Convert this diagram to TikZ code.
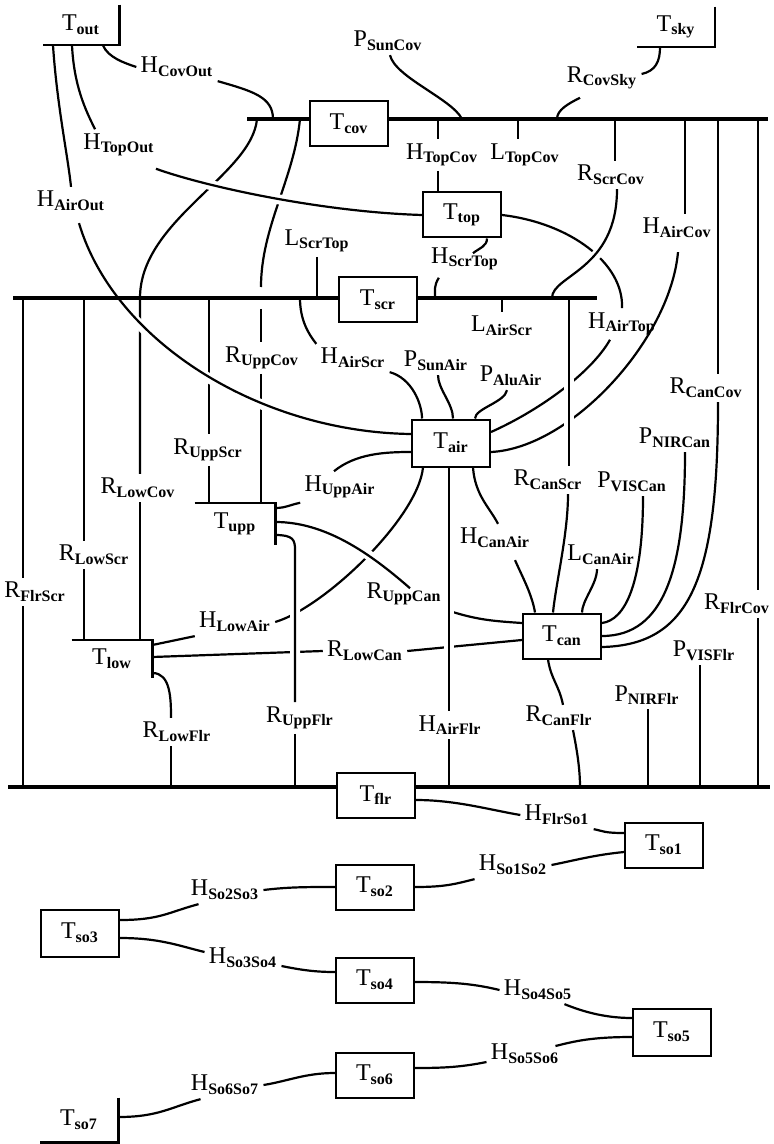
\documentclass[tikz,border=0pt]{standalone}
\usepackage{amsmath}
\usepackage{fontspec}
\setmainfont{Liberation Serif}
\usepackage{tikz}

\begin{document}
\begin{tikzpicture}[x=0.5pt, y=-0.5pt, every node/.style={font=\fontsize{12}{14}\selectfont}]

	\tikzstyle{tbox}=[draw=black, line width=1pt, minimum width=39pt, minimum height=22.5pt, inner sep=0pt]
	\tikzstyle{topen}=[draw=none, minimum width=39pt, minimum height=20pt, inner sep=0pt]
	\tikzstyle{lab}=[inner sep=2pt]
	\tikzstyle{wire}=[line width=1.1pt]
	\tikzstyle{over}=[line width=1.1pt, preaction={draw=white, line width=5pt, shorten <=4pt, shorten >=4pt}]
	\tikzstyle{bar}=[line width=2.4pt]

	\useasboundingbox (0,0) rectangle (773,1144);

	% cover, screen and floor levels
	\coordinate (covL) at (247,119);
	\coordinate (covR) at (768,119);
	\coordinate (scrL) at (13,298);
	\coordinate (scrR) at (597,298);
	\coordinate (flrL) at (8,787);
	\coordinate (flrR) at (770,787);

	% temperature nodes
	\node (tout) at (81,25) [topen, minimum width=38pt] {T$_{\textbf{out}}$};
	\node (tsky) at (676,27) [topen, minimum width=38.5pt] {T$_{\textbf{sky}}$};
	\node (tcov) at (349,124) [tbox] {T$_{\textbf{cov}}$};
	\node (ttop) at (462,215) [tbox] {T$_{\textbf{top}}$};
	\node (tscr) at (378,300) [tbox] {T$_{\textbf{scr}}$};
	\node (tair) at (451,443) [tbox, minimum height=23.5pt] {T$_{\textbf{air}}$};
	\node (tupp) at (235,524) [topen, minimum width=40pt, minimum height=21pt] {T$_{\textbf{upp}}$};
	\node (tlow) at (112,659) [topen, minimum width=40pt, minimum height=19pt] {T$_{\textbf{low}}$};
	\node (tcan) at (562,636) [tbox] {T$_{\textbf{can}}$};
	\node (tflr) at (376,795) [tbox] {T$_{\textbf{flr}}$};

	\node (tso1) at (664,845) [tbox] {T$_{\textbf{so1}}$};
	\node (tso2) at (375,887) [tbox] {T$_{\textbf{so2}}$};
	\node (tso3) at (80,933) [tbox, minimum height=23.5pt] {T$_{\textbf{so3}}$};
	\node (tso4) at (375,980) [tbox] {T$_{\textbf{so4}}$};
	\node (tso5) at (672,1032) [tbox, minimum height=23.5pt] {T$_{\textbf{so5}}$};
	\node (tso6) at (375,1075) [tbox] {T$_{\textbf{so6}}$};
	\node (tso7) at (79,1120) [topen, minimum height=22pt] {T$_{\textbf{so7}}$};

	% open corners
	\draw [wire] (tout.north east) -- (tout.south east) -- (tout.south west);
	\draw [wire] (tsky.north east) -- (tsky.south east) -- (tsky.south west);
	\draw [wire] (tupp.north west) -- (tupp.north east) -- (tupp.south east);
	\draw [wire] (tlow.north west) -- (tlow.north east) -- (tlow.south east);
	\draw [wire] (tso7.north east) -- (tso7.south east) -- (tso7.south west);

	% flux labels
	\node (hcovout) at (177,67) [lab] {H$_{\textbf{CovOut}}$};
	\node (htopout) at (119,145) [lab] {H$_{\textbf{TopOut}}$};
	\node (hairout) at (71,201) [lab] {H$_{\textbf{AirOut}}$};
	\node (psuncov) at (388,41) [lab] {P$_{\textbf{SunCov}}$};
	\node (rcovsky) at (602,78) [lab] {R$_{\textbf{CovSky}}$};
	\node (htopcov) at (442,155) [lab] {H$_{\textbf{TopCov}}$};
	\node (ltopcov) at (525,155) [lab] {L$_{\textbf{TopCov}}$};
	\node (rscrcov) at (611,175) [lab] {R$_{\textbf{ScrCov}}$};
	\node (haircov) at (677,228) [lab] {H$_{\textbf{AirCov}}$};
	\node (lscrtop) at (317,241) [lab] {L$_{\textbf{ScrTop}}$};
	\node (hscrtop) at (465,259) [lab] {H$_{\textbf{ScrTop}}$};
	\node (hairtop) at (622,324) [lab] {H$_{\textbf{AirTop}}$};
	\node (lairscr) at (502,326) [lab] {L$_{\textbf{AirScr}}$};
	\node (ruppcov) at (262,358) [lab] {R$_{\textbf{UppCov}}$};
	\node (hairscr) at (353,358) [lab] {H$_{\textbf{AirScr}}$};
	\node (psunair) at (436,361) [lab] {P$_{\textbf{SunAir}}$};
	\node (paluair) at (511,376) [lab] {P$_{\textbf{AluAir}}$};
	\node (rcancov) at (706,388) [lab] {R$_{\textbf{CanCov}}$};
	\node (pnircan) at (675,438) [lab] {P$_{\textbf{NIRCan}}$};
	\node (ruppscr) at (208,450) [lab] {R$_{\textbf{UppScr}}$};
	\node (rcanscr) at (548,480) [lab] {R$_{\textbf{CanScr}}$};
	\node (pviscan) at (632,482) [lab] {P$_{\textbf{VISCan}}$};
	\node (huppair) at (340,487) [lab] {H$_{\textbf{UppAir}}$};
	\node (rlowcov) at (138,488) [lab] {R$_{\textbf{LowCov}}$};
	\node (hcanair) at (495,538) [lab] {H$_{\textbf{CanAir}}$};
	\node (lcanair) at (601,555) [lab] {L$_{\textbf{CanAir}}$};
	\node (rlowscr) at (94,555) [lab] {R$_{\textbf{LowScr}}$};
	\node (rflrscr) at (35,592) [lab] {R$_{\textbf{FlrScr}}$};
	\node (ruppcan) at (404,594) [lab] {R$_{\textbf{UppCan}}$};
	\node (rflrcov) at (737,604) [lab] {R$_{\textbf{FlrCov}}$};
	\node (hlowair) at (235,622) [lab] {H$_{\textbf{LowAir}}$};
	\node (rlowcan) at (365,651) [lab] {R$_{\textbf{LowCan}}$};
	\node (pvisflr) at (704,651) [lab] {P$_{\textbf{VISFlr}}$};
	\node (pnirflr) at (647,695) [lab] {P$_{\textbf{NIRFlr}}$};
	\node (rcanflr) at (559,716) [lab] {R$_{\textbf{CanFlr}}$};
	\node (ruppflr) at (300,718) [lab] {R$_{\textbf{UppFlr}}$};
	\node (hairflr) at (450,725) [lab] {H$_{\textbf{AirFlr}}$};
	\node (rlowflr) at (177,732) [lab] {R$_{\textbf{LowFlr}}$};

	\node (hflrso1) at (557,815) [lab] {H$_{\textbf{FlrSo1}}$};
	\node (hso1so2) at (513,865) [lab] {H$_{\textbf{So1So2}}$};
	\node (hso2so3) at (225,890) [lab] {H$_{\textbf{So2So3}}$};
	\node (hso3so4) at (243,958) [lab] {H$_{\textbf{So3So4}}$};
	\node (hso4so5) at (538,990) [lab] {H$_{\textbf{So4So5}}$};
	\node (hso5so6) at (525,1054) [lab] {H$_{\textbf{So5So6}}$};
	\node (hso6so7) at (225,1085) [lab] {H$_{\textbf{So6So7}}$};

	% links to the outside and the sky
	\draw [wire] (103,0 |- tout.south) .. controls +(5,12) and +(-12,-4) .. (hcovout.west);
	\draw [wire] (hcovout.south east) .. controls +(35,10) and +(0,-22) .. (273,0 |- covL);
	\draw [wire] (72,0 |- tout.south) .. controls +(2,40) and +(-10,-20) .. ([xshift=8pt]htopout.north west);
	\draw [wire] (53,0 |- tout.south) .. controls +(4,60) and +(-3,-30) .. (hairout.north);
	\draw [wire] ([xshift=1pt]psuncov.south) .. controls +(5,22) and +(-10,-20) .. (462,0 |- covL);
	\draw [wire] (660,0 |- tsky.south) .. controls +(0,14) and +(14,-3) .. ([yshift=2pt]rcovsky.east);
	\draw [wire] ([xshift=-11pt,yshift=-2pt]rcovsky.south) .. controls +(-12,6) and +(0,-9) .. (557,0 |- covL);

	% cover to top and screen
	\draw [wire] (438,0 |- covL) -- (438,0 |- htopcov.north);
	\draw [wire] (438,0 |- htopcov.south) -- (438,0 |- ttop.north);
	\draw [wire] (518,0 |- covL) -- (518,0 |- ltopcov.north);
	\draw [wire] (615,0 |- covL) -- (615,0 |- rscrcov.north);
	\draw [wire] (685,0 |- covL) -- (685,0 |- haircov.north);
	\draw [wire] (718,0 |- covL) -- (718,0 |- rcancov.north);
	\draw [wire] (758,0 |- covL) -- (758,0 |- rflrcov.north);
	\draw [wire] (758,0 |- rflrcov.south) -- (758,0 |- flrL);

	% cover down to the lamps
	\coordinate (uc1) at (261,287);
	\coordinate (uc2) at (261,309);
	\draw [wire] (257,0 |- covL) .. controls +(-5,56) and +(0,-78) .. (140,0 |- scrL) -- (140,0 |- rlowcov.north);
	\draw [wire] (140,0 |- rlowcov.south) -- (140,0 |- tlow.north);
	\draw [wire] (300,0 |- covL) .. controls +(-6,60) and +(0,-60) .. (uc1);
	\draw [wire] (uc2) -- (261,0 |- ruppcov.north);
	\draw [wire] (261,0 |- ruppcov.south) -- (261,0 |- tupp.north);

	% screen down to the lamps and floor
	\draw [wire] (209,0 |- scrL) -- (209,0 |- ruppscr.north);
	\draw [wire] (209,0 |- ruppscr.south) -- (209,0 |- tupp.north);
	\draw [wire] (84,0 |- scrL) -- (84,0 |- rlowscr.north);
	\draw [wire] (84,0 |- rlowscr.south) -- (84,0 |- tlow.north);
	\draw [wire] (23,0 |- scrL) -- (23,0 |- rflrscr.north);
	\draw [wire] (23,0 |- rflrscr.south) -- (23,0 |- flrL);

	% top compartment and screen
	\draw [wire] (lscrtop.south) -- (lscrtop.south |- scrL);
	\draw [wire] (487,0 |- ttop.south) .. controls +(0,8) and +(6,-5) .. ([shift={(8,10)}]hscrtop.north);
	\draw [wire] ([shift={(12,3)}]hscrtop.south west) .. controls +(-5,8) and +(0,-8) .. (435,0 |- scrL);
	\draw [wire] (ttop.east) .. controls +(68,8) and +(2,-45) .. (hairtop.north);
	\draw [wire] ([xshift=-6pt]hairtop.south) .. controls +(-20,35) and +(45,-20) .. (tair.east |- 0,432);
	\draw [wire] ([shift={(1,10)}]haircov.south) .. controls +(-8,88) and +(80,-4) .. (tair.east |- 0,452);

	% air node
	\draw [wire] (300,0 |- scrL) .. controls +(0,22) and +(-8,-10) .. (hairscr.north west);
	\draw [wire] (hairscr.south east) .. controls +(22,6) and +(0,-15) .. (422,0 |- tair.north);
	\draw [wire] (502,0 |- scrL) -- (lairscr.north);
	\draw [wire] ([xshift=1pt]psunair.south) .. controls +(0,14) and +(0,-15) .. (453,0 |- tair.north);
	\draw [wire] ([xshift=-2pt]paluair.south) .. controls +(-2,12) and +(0,-10) .. (475,0 |- tair.north);
	\draw [wire] (tupp.east |- 0,508) .. controls +(10,0) and +(-10,2) .. (huppair.south west);
	\draw [wire] ([xshift=-3pt]huppair.north) .. controls +(22,-18) and +(-25,0) .. (tair.west |- 0,452);
	\draw [wire] (473,0 |- tair.south) .. controls +(2,28) and +(-8,-16) .. ([xshift=1.5pt]hcanair.north);
	\draw [wire] ([shift={(20,8)}]hcanair.south) .. controls +(8,18) and +(-3,-18) .. (535,0 |- tcan.north);

	% low lamps
	\draw [wire] (tlow.east |- 0,645) -- (hlowair.south west);
	\draw [wire] (hlowair.east) .. controls +(50,-15) and +(-5,50) .. (423,0 |- tair.south);
	\draw [wire] (tlow.east |- 0,657) -- (rlowcan.west);
	\draw [wire] (rlowcan.east) -- (tcan.west |- 0,640);
	\draw [wire] (tlow.east |- 0,673) .. controls +(18,0) and +(0,-20) .. (171,0 |- rlowflr.north);
	\draw [wire] (171,0 |- rlowflr.south) -- (171,0 |- flrL);

	% canopy
	\draw [wire] ([xshift=-2pt]lcanair.south) .. controls +(0,15) and +(0,-12) .. (582,0 |- tcan.north);
	\draw [wire] (643,0 |- pviscan.south) .. controls +(0,88) and +(23,-3) .. (tcan.east |- 0,623);
	\draw [wire] (685,0 |- pnircan.south) .. controls +(0,115) and +(63,0) .. (tcan.east);
	\draw [wire] (718,0 |- rcancov.south) .. controls +(0,177) and +(88,-2) .. (tcan.east |- 0,647);
	\draw [wire] (548,0 |- tcan.south) .. controls +(3,20) and +(-4,-20) .. ([shift={(4,3)}]rcanflr.north);
	\draw [wire] ([xshift=7pt]rcanflr.south) .. controls +(4,20) and +(0,-18) .. (580,0 |- flrL);
	\draw [wire] (648,0 |- pnirflr.south) -- (648,0 |- flrL);
	\draw [wire] (700,0 |- pvisflr.south) -- (700,0 |- flrL);

	% crossing lines, drawn over the others
	\draw [over] ([shift={(-3,8)}]htopout.south east) .. controls +(50,18) and +(-100,-3) .. (ttop.west);
	\draw [over] ([shift={(8,8)}]hairout.south) .. controls +(35,118) and +(-152,-2) .. (tair.west |- 0,434);
	\draw [over] ([xshift=3pt]rscrcov.south) .. controls +(0,81) and +(0,-23) .. (552,0 |- scrL);
	\draw [over] (tupp.east |- 0,522) .. controls +(50,0) and +(-40,-35) .. ([shift={(6,10)}]ruppcan.north);
	\draw [over] (ruppcan.south east) .. controls +(30,10) and +(-30,-2) .. (tcan.west |- 0,623);
	\draw [over] (449,0 |- tair.south) -- (449,0 |- hairflr.north);
	\draw [wire] (449,0 |- hairflr.south) -- (449,0 |- flrL);
	\draw [over] (tupp.east |- 0,535) .. controls +(18,0) and +(0,-10) .. (295,550) -- (295,0 |- ruppflr.north);
	\draw [wire] (295,0 |- ruppflr.south) -- (295,0 |- flrL);
	\draw [over] (569,0 |- scrL) -- (569,0 |- rcanscr.north);
	\draw [wire] (568,0 |- rcanscr.south) .. controls +(0,40) and +(3,-30) .. (553,0 |- tcan.north);

	% soil layers
	\draw [wire] (tflr.east |- 0,800) .. controls +(40,0) and +(-30,-5) .. (hflrso1.west);
	\draw [wire] (hflrso1.south east) .. controls +(10,2) and +(-20,0) .. (tso1.west |- 0,833);
	\draw [wire] (tso1.west |- 0,852) .. controls +(-30,3) and +(25,-5) .. (hso1so2.east);
	\draw [wire] (hso1so2.south west) .. controls +(-20,5) and +(30,0) .. (tso2.east);
	\draw [wire] (tso2.west) .. controls +(-30,0) and +(25,-3) .. (hso2so3.east);
	\draw [wire] ([xshift=6pt]hso2so3.south west) .. controls +(-30,8) and +(40,0) .. (tso3.east |- 0,920);
	\draw [wire] (tso3.east |- 0,938) .. controls +(40,0) and +(-25,-6) .. ([yshift=3pt]hso3so4.west);
	\draw [wire] ([yshift=-4pt]hso3so4.east) .. controls +(20,4) and +(-20,0) .. (tso4.west |- 0,972);
	\draw [wire] (tso4.east |- 0,982) .. controls +(40,0) and +(-25,-6) .. (hso4so5.west);
	\draw [wire] ([xshift=-6pt]hso4so5.south east) .. controls +(15,6) and +(-30,0) .. (tso5.west |- 0,1018);
	\draw [wire] (tso5.west |- 0,1037) .. controls +(-40,0) and +(20,-5) .. ([shift={(-8,-8)}]hso5so6.east);
	\draw [wire] ([yshift=-4pt]hso5so6.west) .. controls +(-25,5) and +(30,0) .. (tso6.east |- 0,1068);
	\draw [wire] (tso6.west |- 0,1073) .. controls +(-30,0) and +(25,-4) .. (hso6so7.east);
	\draw [wire] ([xshift=7pt]hso6so7.south west) .. controls +(-30,8) and +(40,0) .. (tso7.east |- 0,1117);

	% cover, screen and floor
	\draw [bar] (covL) -- (tcov.west |- covL);
	\draw [bar] (tcov.east |- covL) -- (covR);
	\draw [bar] (scrL) -- (tscr.west |- scrL);
	\draw [bar] (tscr.east |- scrL) -- (scrR);
	\draw [bar] (flrL) -- (tflr.west |- flrL);
	\draw [bar] (tflr.east |- flrL) -- (flrR);

\end{tikzpicture}
\end{document}
